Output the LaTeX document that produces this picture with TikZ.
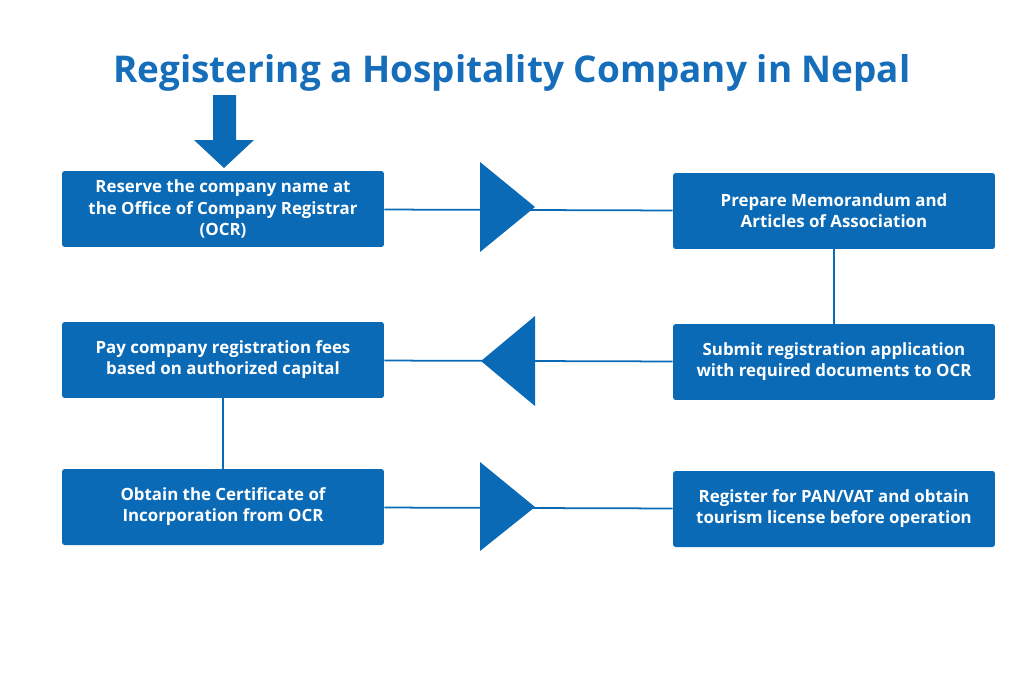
\documentclass[tikz,border=0pt]{standalone}
\usepackage{fontspec}
\setmainfont{Open Sans}
\definecolor{stepblue}{RGB}{11, 106, 181}
\definecolor{titleblue}{RGB}{22, 110, 186}
\usetikzlibrary{positioning}

\begin{document}
\begin{tikzpicture}[
    x=0.02cm, y=-0.02cm,
    stage/.style={rectangle, fill=stepblue, rounded corners=1.5pt, minimum width=6.44cm, minimum height=1.52cm, align=center, text=white, font=\fontsize{9.6}{12}\selectfont\bfseries, inner sep=2pt},
    link/.style={stepblue, line width=1pt},
    pointer/.style={fill=stepblue}
]
    \useasboundingbox (0,0) rectangle (1024,683);

    % Title
    \node[font=\fontsize{21}{25}\selectfont\bfseries, text=titleblue] (title) at (512,73) {Registering a Hospitality Company in Nepal};

    % Steps
    \node[stage] (reserve) at (223,209) {Reserve the company name at\\the Office of Company Registrar\\(OCR)};
    \node[stage] (prepare) at (834,211) {Prepare Memorandum and\\Articles of Association};
    \node[stage] (submit) at (834,362) {Submit registration application\\with required documents to OCR};
    \node[stage] (pay) at (223,360) {Pay company registration fees\\based on authorized capital};
    \node[stage] (obtain) at (223,507) {Obtain the Certificate of\\Incorporation from OCR};
    \node[stage] (register) at (834,509) {Register for PAN/VAT and obtain\\tourism license before operation};

    % Connectors
    \draw[link] (reserve) -- (prepare);
    \draw[link] (prepare) -- (submit);
    \draw[link] (submit) -- (pay);
    \draw[link] (pay) -- (obtain);
    \draw[link] (obtain) -- (register);

    % Direction marks
    \fill[pointer] (480,162) -- (535,207) -- (480,252) -- cycle;
    \fill[pointer] (535,316) -- (481,361) -- (535,406) -- cycle;
    \fill[pointer] (480,462) -- (535,507) -- (480,551) -- cycle;
    \fill[pointer] (213,95) -- (236,95) -- (236,140) -- (254,140) -- (224,168) -- (194,140) -- (213,140) -- cycle;

\end{tikzpicture}
\end{document}
